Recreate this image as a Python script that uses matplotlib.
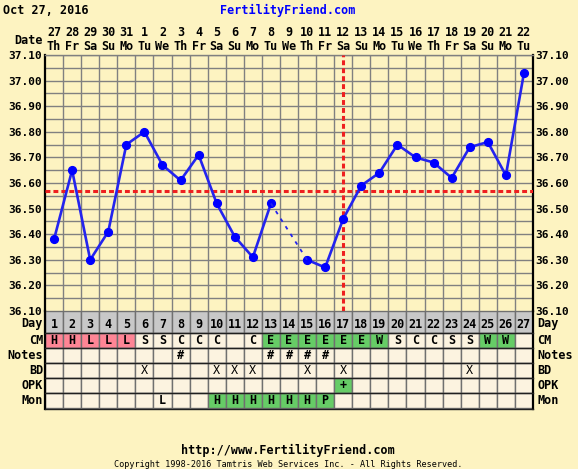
import numpy as np
import matplotlib
matplotlib.use("Agg")
import matplotlib.pyplot as plt
from matplotlib.patches import Rectangle
import matplotlib.transforms as mtransforms

# --- data ---
days = list(range(1, 28))
dates = [27, 28, 29, 30, 31] + list(range(1, 23))
weekdays = ["Th", "Fr", "Sa", "Su", "Mo", "Tu", "We"] * 4
weekdays = weekdays[:27]
temps = [36.38, 36.65, 36.30, 36.41, 36.75, 36.80, 36.67, 36.61, 36.71,
         36.52, 36.39, 36.31, 36.52, np.nan, 36.30, 36.27, 36.46, 36.59,
         36.64, 36.75, 36.70, 36.68, 36.62, 36.74, 36.76, 36.63, 37.03]
coverline = 36.57
ovulation_day = 17

cm = ["H", "H", "L", "L", "L", "S", "S", "C", "C", "C", "", "C", "E", "E",
      "E", "E", "E", "E", "W", "S", "C", "C", "S", "S", "W", "W", ""]
notes = {8: "#", 13: "#", 14: "#", 15: "#", 16: "#"}
bd = [6, 10, 11, 12, 15, 17, 24]
opk = {17: "+"}
mon = {7: "L", 10: "H", 11: "H", 12: "H", 13: "H", 14: "H", 15: "H", 16: "P"}

# --- style ---
W, H = 578, 469
BG = "#fdf3c1"
CELL = "#fcf3e0"
PINK = "#ff8595"
GREEN = "#66cc66"
GRAY_ROW = "#c8c8c8"
GRID = "#808080"
FONT = "DejaVu Sans Mono"
FS = 8.5


def fx(px):
    return px / W


def fy(py):
    return 1 - py / H


fig = plt.figure(figsize=(W / 100, H / 100), dpi=100, facecolor=BG)

# --- temperature chart ---
ax = fig.add_axes([fx(45), fy(311), (533 - 45) / W, (311 - 55) / H])
ax.set_facecolor(BG)
ax.set_xlim(0.5, 27.5)
ax.set_ylim(36.10, 37.10)

ax.vlines(np.arange(1.5, 27.5, 1), 36.10, 37.10, color=GRID, lw=1.0, zorder=1)
ax.hlines(np.arange(36.15, 37.10, 0.05), 0.5, 27.5, color=GRID, lw=1.0, zorder=1)

for s in ["left", "right"]:
    ax.spines[s].set_color("black")
    ax.spines[s].set_linewidth(1.6)
for s in ["top", "bottom"]:
    ax.spines[s].set_color(GRID)
    ax.spines[s].set_linewidth(1.0)

yt = np.arange(36.10, 37.11, 0.10)
ax.set_yticks(yt)
ax.set_yticklabels([f"{v:.2f}" for v in yt])
ax.set_xticks([])
ax.tick_params(axis="y", length=0, pad=2, labelright=True)
for tk in ax.yaxis.get_major_ticks():
    for lab in (tk.label1, tk.label2):
        lab.set_fontfamily(FONT)
        lab.set_fontweight("bold")
        lab.set_fontsize(8)

# coverline and ovulation line
red_kw = dict(color="#ee2020", lw=2.2, dashes=(1.6, 1.0), dash_capstyle="butt", zorder=3)
ax.plot([0.5, 27.5], [coverline, coverline], **red_kw)
ax.plot([ovulation_day, ovulation_day], [36.10, 37.10], **red_kw)

# temperatures
t = np.array(temps)
ax.plot(days, t, color="#2424ee", lw=1.9, marker="o", ms=5.6,
        mfc="#0000ff", mec="#0000ff", zorder=4)
# dashed link across missing day
miss = [i for i in range(len(t)) if np.isnan(t[i])]
for i in miss:
    ax.plot([days[i - 1], days[i + 1]], [t[i - 1], t[i + 1]], color="#2424ee",
            lw=1.3, dashes=(2, 3), zorder=4)

# header
trans = mtransforms.blended_transform_factory(ax.transData, fig.transFigure)
for d, dt, wd in zip(days, dates, weekdays):
    ax.text(d, fy(33), str(dt), transform=trans, ha="center", va="center",
            fontfamily=FONT, fontweight="bold", fontsize=FS)
    ax.text(d, fy(46), wd, transform=trans, ha="center", va="center",
            fontfamily=FONT, fontweight="bold", fontsize=FS)
fig.text(fx(43), fy(40), "Date", ha="right", va="center",
         fontfamily=FONT, fontweight="bold", fontsize=FS)
fig.text(fx(3), fy(10), "Oct 27, 2016", ha="left", va="center",
         fontfamily=FONT, fontweight="bold", fontsize=FS)
fig.text(fx(288), fy(10), "FertilityFriend.com", ha="center", va="center",
         fontfamily=FONT, fontweight="bold", fontsize=FS, color="#0000ff")

# --- table ---
tax = fig.add_axes([fx(45), fy(409), (533 - 45) / W, 98 / H])
tax.set_xlim(0.5, 27.5)
tax.set_ylim(98, 0)
tax.axis("off")

row_names = ["Day", "CM", "Notes", "BD", "OPK", "Mon"]
row_tops = [0, 22, 37, 52, 67, 82]
row_h = [22, 15, 15, 15, 15, 15]

for name, top, h in zip(row_names, row_tops, row_h):
    yc = top + h / 2 + (2 if name == "Day" else 0)
    for i, d in enumerate(days):
        face = CELL
        txt = ""
        if name == "Day":
            face = GRAY_ROW
            txt = str(d)
        elif name == "CM":
            txt = cm[i]
            if txt in ("H", "L"):
                face = PINK
            elif txt in ("E", "W"):
                face = GREEN
        elif name == "Notes":
            txt = notes.get(d, "")
        elif name == "BD":
            txt = "X" if d in bd else ""
        elif name == "OPK":
            txt = opk.get(d, "")
            if txt:
                face = GREEN
        elif name == "Mon":
            txt = mon.get(d, "")
            if txt in ("H", "P"):
                face = GREEN
        tax.add_patch(Rectangle((d - 0.5, top), 1, h, facecolor=face,
                                edgecolor="#707070", lw=1.0))
        if txt:
            tax.text(d, yc, txt, ha="center", va="center",
                     fontfamily=FONT, fontweight="bold" if txt != "X" else "normal",
                     fontsize=FS)
    ty = fy(311 + yc)
    fig.text(fx(43), ty, name, ha="right", va="center",
             fontfamily=FONT, fontweight="bold", fontsize=FS)
    fig.text(fx(537), ty, name, ha="left", va="center",
             fontfamily=FONT, fontweight="bold", fontsize=FS)

tax.plot([0.5, 0.5], [0, 98], color="black", lw=1.6, clip_on=False)
tax.plot([27.5, 27.5], [0, 98], color="black", lw=1.6, clip_on=False)
for yb in row_tops[1:] + [98]:
    tax.plot([0.5, 27.5], [yb, yb], color="#202020", lw=1.0, clip_on=False)

# footer
fig.text(fx(288), fy(450), "http://www.FertilityFriend.com", ha="center", va="center",
         fontfamily=FONT, fontweight="bold", fontsize=FS)
fig.text(fx(288), fy(464),
         "Copyright 1998-2016 Tamtris Web Services Inc. - All Rights Reserved.",
         ha="center", va="center", fontfamily=FONT, fontsize=6.1)

fig.savefig("out.png", dpi=100, facecolor=BG)
